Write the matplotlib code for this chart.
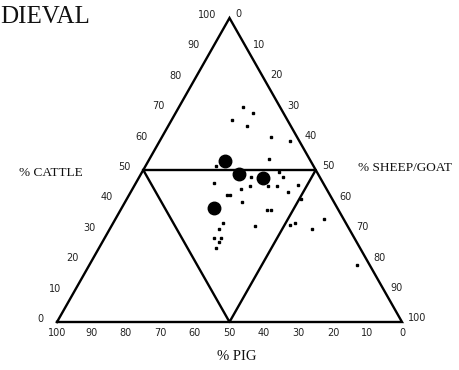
#ternary plot of cattle / sheep-goat / pig bone percentages
import numpy as np
import matplotlib.pyplot as plt

#small dots (percent)
cattle = [70.6, 68.7, 66.5, 64.6, 60.8, 59.6, 53.7, 51.4, 49.4, 45.6, 47.7, 47.8,
          43.7, 44.7, 44.7, 44.7, 45.0, 42.8, 41.7, 41.7, 39.6, 40.6, 36.8, 36.8,
          32.5, 31.7, 30.5, 31.9, 32.7, 30.7, 33.8, 27.5, 27.5, 26.3, 24.4, 18.8]
sheep = [18.5, 22.5, 17.5, 22.7, 31.6, 37.8, 34.5, 20.5, 39.7, 22.6, 32.5, 41.5,
         31.5, 33.5, 38.7, 41.5, 47.4, 45.6, 28.3, 29.3, 33.7, 50.4, 42.6, 43.6,
         31.8, 41.6, 31.8, 51.6, 52.7, 58.5, 60.6, 31.8, 33.8, 33.8, 33.9, 77.6]
#large dots (percent)
big_cattle = [53.0, 48.6, 47.5, 37.6]
big_sheep = [22.2, 28.4, 35.9, 26.7]

ticks = [0, 10, 20, 30, 40, 50, 60, 70, 80, 90, 100]


def to_xy(c, s):
    #pig is the rest: x runs from pig corner (left) to sheep corner (right)
    c = np.asarray(c, dtype=float)
    s = np.asarray(s, dtype=float)
    return s + c / 2, c


fig = plt.figure(figsize=(4.59, 3.70), dpi=100)
ax = fig.add_axes([0, 0, 1, 1])
ax.set_xlim(-16.52, 116.52)
ax.set_ylim(-15.79, 105.92)
ax.axis('off')

lw = 1.7
#outer triangle
tx, ty = to_xy([0, 0, 100, 0], [0, 100, 0, 0])
ax.plot(tx, ty, color='black', linewidth=lw, solid_joinstyle='miter')
#inner triangle at the 50% lines
ix, iy = to_xy([50, 50, 0, 50], [0, 50, 50, 0])
ax.plot(ix, iy, color='black', linewidth=lw)

#data
x, y = to_xy(cattle, sheep)
ax.plot(x, y, 's', color='black', markersize=1.8, linestyle='none')
bx, by = to_xy(big_cattle, big_sheep)
ax.plot(bx, by, 'o', color='black', markersize=9, linestyle='none')

#tick labels (px -> data: 3.45 px per x unit, 3.04 px per y unit)
tick_font = dict(fontsize=7, color='#222222', family='DejaVu Sans')
for v in ticks:
    #cattle along the left side
    lx, ly = to_xy(v, 0)
    ax.text(lx - 13 / 3.45, ly + 3 / 3.04, str(v), ha='right', va='center', **tick_font)
    #sheep/goat along the right side
    rx, ry = to_xy(100 - v, v)
    ax.text(rx + 6 / 3.45, ry + 3.5 / 3.04, str(v), ha='left', va='center', **tick_font)
    #pig along the bottom
    px, py = to_xy(0, 100 - v)
    ax.text(px, py - 6 / 3.04, str(v), ha='center', va='top', **tick_font)

lab_font = dict(fontsize=9.5, family='Liberation Serif', color='#111111')
ax.text(51 / 3.45 - 16.52, (322 - 173) / 3.04, '% CATTLE', ha='center', va='center', **lab_font)
ax.text(405 / 3.45 - 16.52, (322 - 168) / 3.04, '% SHEEP/GOAT', ha='center', va='center',
        fontstretch='condensed', **lab_font)
ax.text(237 / 3.45 - 16.52, (322 - 357) / 3.04, '% PIG', ha='center', va='center',
        fontsize=10.5, family='Liberation Serif', color='#111111')

#title, cut off at the left edge in the source
ax.text(-16.52, (322 - 17) / 3.04, 'DIEVAL', ha='left', va='center', fontsize=18,
        family='Liberation Serif', color='#111111')

plt.savefig('out.png', dpi=100)
